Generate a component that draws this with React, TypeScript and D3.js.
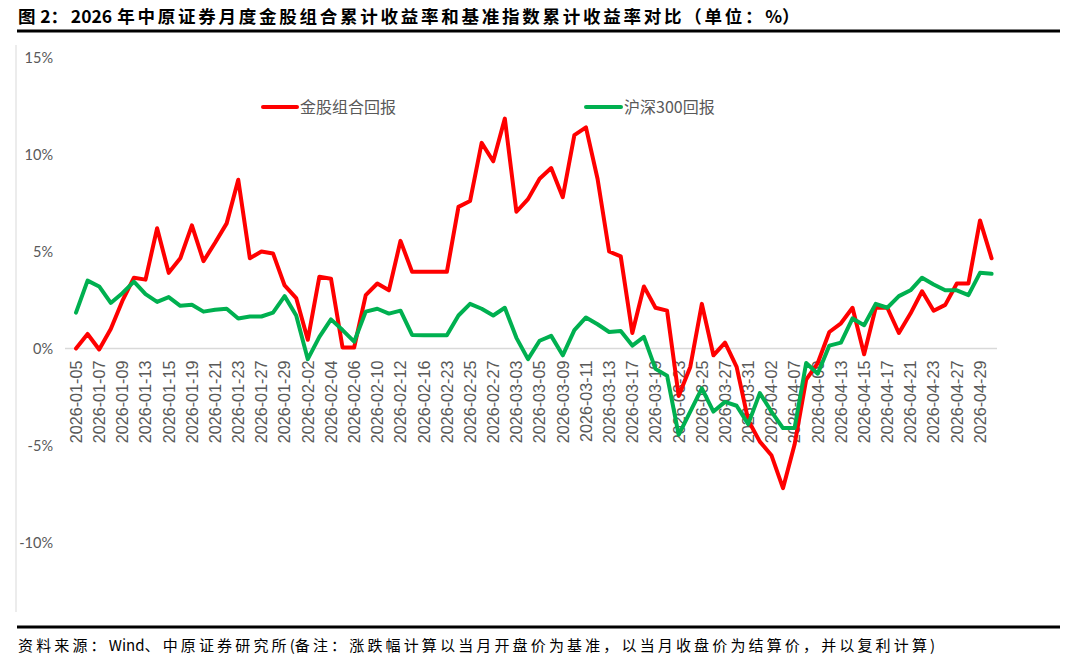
import * as d3 from "d3";

const W = 1079;
const H = 660;

// trading days shown on the category axis (every other one is labelled)
const dates = [
  "2026-01-05", "2026-01-06", "2026-01-07", "2026-01-08", "2026-01-09",
  "2026-01-12", "2026-01-13", "2026-01-14", "2026-01-15", "2026-01-16",
  "2026-01-19", "2026-01-20", "2026-01-21", "2026-01-22", "2026-01-23",
  "2026-01-26", "2026-01-27", "2026-01-28", "2026-01-29", "2026-01-30",
  "2026-02-02", "2026-02-03", "2026-02-04", "2026-02-05", "2026-02-06",
  "2026-02-09", "2026-02-10", "2026-02-11", "2026-02-12", "2026-02-13",
  "2026-02-16", "2026-02-20", "2026-02-23", "2026-02-24", "2026-02-25",
  "2026-02-26", "2026-02-27", "2026-03-02", "2026-03-03", "2026-03-04",
  "2026-03-05", "2026-03-06", "2026-03-09", "2026-03-10", "2026-03-11",
  "2026-03-12", "2026-03-13", "2026-03-16", "2026-03-17", "2026-03-18",
  "2026-03-19", "2026-03-20", "2026-03-23", "2026-03-24", "2026-03-25",
  "2026-03-26", "2026-03-27", "2026-03-30", "2026-03-31", "2026-04-01",
  "2026-04-02", "2026-04-03", "2026-04-07", "2026-04-08", "2026-04-09",
  "2026-04-10", "2026-04-13", "2026-04-14", "2026-04-15", "2026-04-16",
  "2026-04-17", "2026-04-20", "2026-04-21", "2026-04-22", "2026-04-23",
  "2026-04-24", "2026-04-27", "2026-04-28", "2026-04-29", "2026-04-30",
];

// 金股组合回报 (%)
const portfolio = [
  0.0, 0.75, -0.05, 1.0, 2.45, 3.65, 3.55, 6.2, 3.9, 4.65,
  6.35, 4.5, 5.45, 6.45, 8.7, 4.65, 5.0, 4.9, 3.25, 2.6,
  0.45, 3.7, 3.6, 0.05, 0.05, 2.75, 3.35, 3.0, 5.55, 3.95,
  3.95, 3.95, 3.95, 7.3, 7.6, 10.6, 9.65, 11.85, 7.05, 7.7,
  8.75, 9.3, 7.8, 11.0, 11.4, 8.75, 5.0, 4.75, 0.8, 3.2,
  2.1, 1.95, -2.45, -0.95, 2.3, -0.35, 0.3, -0.95, -3.7, -4.8,
  -5.5, -7.2, -4.95, -1.6, -0.75, 0.85, 1.3, 2.1, -0.3, 2.1,
  2.1, 0.8, 1.8, 2.95, 1.95, 2.25, 3.35, 3.35, 6.6, 4.65,
];

// 沪深300回报 (%)
const csi300 = [
  1.85, 3.5, 3.2, 2.35, 2.85, 3.45, 2.8, 2.4, 2.65, 2.2,
  2.25, 1.9, 2.0, 2.05, 1.55, 1.65, 1.65, 1.85, 2.7, 1.7,
  -0.55, 0.6, 1.5, 0.95, 0.35, 1.9, 2.05, 1.8, 1.95, 0.7,
  0.68, 0.68, 0.68, 1.7, 2.3, 2.05, 1.7, 2.1, 0.55, -0.55,
  0.4, 0.65, -0.35, 0.95, 1.6, 1.25, 0.85, 0.9, 0.15, 0.6,
  -1.05, -1.4, -4.45, -3.25, -2.05, -3.25, -2.75, -2.95, -3.9, -2.3,
  -3.25, -4.1, -4.1, -0.75, -1.3, 0.15, 0.3, 1.55, 1.2, 2.3,
  2.1, 2.7, 3.0, 3.65, 3.3, 3.0, 3.0, 2.75, 3.9, 3.85,
];

const yTicks = [15, 10, 5, 0, -5, -10];

const series = [
  { name: "金股组合回报", values: portfolio, color: "#ff0000" },
  { name: "沪深300回报", values: csi300, color: "#00b050" },
];

const CJK = "'Noto Sans CJK SC', 'Noto Sans', sans-serif";

export default function App() {
  const x = d3.scalePoint<string>().domain(dates).range([70.2, 997.4]).padding(0.5);
  const y = d3.scaleLinear().domain([-15, 15]).range([639.5, 57.5]);

  const line = d3
    .line<number>()
    .x((_, i) => x(dates[i]) ?? 0)
    .y((d) => y(d));

  const labelled = dates.filter((_, i) => i % 2 === 0);

  return (
    <svg
      width={W}
      height={H}
      viewBox={`0 0 ${W} ${H}`}
      style={{ position: "absolute", left: 0, top: 0, background: "#fff" }}
    >
      {/* title — CJK glyphs are spaced out, latin digits stay tight */}
      <text x={18} y={22.5} fontFamily={CJK} fontWeight="bold" fontSize={17.5} fill="#000">
        <tspan letterSpacing={2.75}>图</tspan>
        <tspan letterSpacing={0} dx={2}>2</tspan>
        <tspan letterSpacing={2.75}>：</tspan>
        <tspan letterSpacing={0}>2026</tspan>
        <tspan letterSpacing={2.75} dx={5}>年中原证券月度金股组合累计收益率和基准指数累计收益率对比（单位：</tspan>
        <tspan letterSpacing={0}>%</tspan>
        <tspan>）</tspan>
      </text>
      <line x1={17} x2={1060} y1={31} y2={31} stroke="#000" strokeWidth={3} />

      {/* chart frame edge */}
      <line x1={16} x2={16} y1={45} y2={612} stroke="#d9d9d9" strokeWidth={1} />

      {/* y tick labels */}
      {yTicks.map((t) => (
        <text
          key={t}
          x={53}
          y={y(t)}
          dy="0.35em"
          textAnchor="end"
          fontFamily="Lato, 'Noto Sans', sans-serif"
          fontSize={14.5}
          fill="#595959"
        >
          {t}%
        </text>
      ))}

      {/* zero axis line */}
      <line x1={65} x2={997} y1={y(0)} y2={y(0)} stroke="#d9d9d9" strokeWidth={1.5} />

      {/* x category labels, rotated */}
      {labelled.map((d) => (
        <text
          key={d}
          transform={`translate(${x(d)},${y(0) + 12}) rotate(-90)`}
          dy="0.36em"
          textAnchor="end"
          fontFamily="'Liberation Sans', Arial, sans-serif"
          fontSize={16.2}
          fill="#595959"
        >
          {d}
        </text>
      ))}

      {/* series lines */}
      {series.map((s) => (
        <path
          key={s.name}
          d={line(s.values) ?? ""}
          fill="none"
          stroke={s.color}
          strokeWidth={4}
          strokeLinejoin="round"
          strokeLinecap="round"
        />
      ))}

      {/* legend */}
      <line x1={263} x2={297} y1={107} y2={107} stroke="#ff0000" strokeWidth={4} strokeLinecap="round" />
      <text x={300} y={107} dy="0.36em" fontFamily={CJK} fontSize={16} fill="#595959">
        金股组合回报
      </text>
      <line x1={586} x2={621} y1={107} y2={107} stroke="#00b050" strokeWidth={4} strokeLinecap="round" />
      <text x={624} y={107} dy="0.36em" fontFamily={CJK} fontSize={16} fill="#595959">
        沪深300回报
      </text>

      {/* footer */}
      <line x1={17} x2={1060} y1={627} y2={627} stroke="#000" strokeWidth={3} />
      <text x={18} y={650.5} fontFamily={CJK} fontSize={15} fill="#000">
        <tspan letterSpacing={3.15}>资料来源：</tspan>
        <tspan letterSpacing={0}>Wind</tspan>
        <tspan letterSpacing={3.15}>、中原证券研究所</tspan>
        <tspan letterSpacing={0}>(</tspan>
        <tspan letterSpacing={3.15}>备注：涨跌幅计算以当月开盘价为基准，以当月收盘价为结算价，并以复利计算</tspan>
        <tspan letterSpacing={0}>)</tspan>
      </text>
    </svg>
  );
}
